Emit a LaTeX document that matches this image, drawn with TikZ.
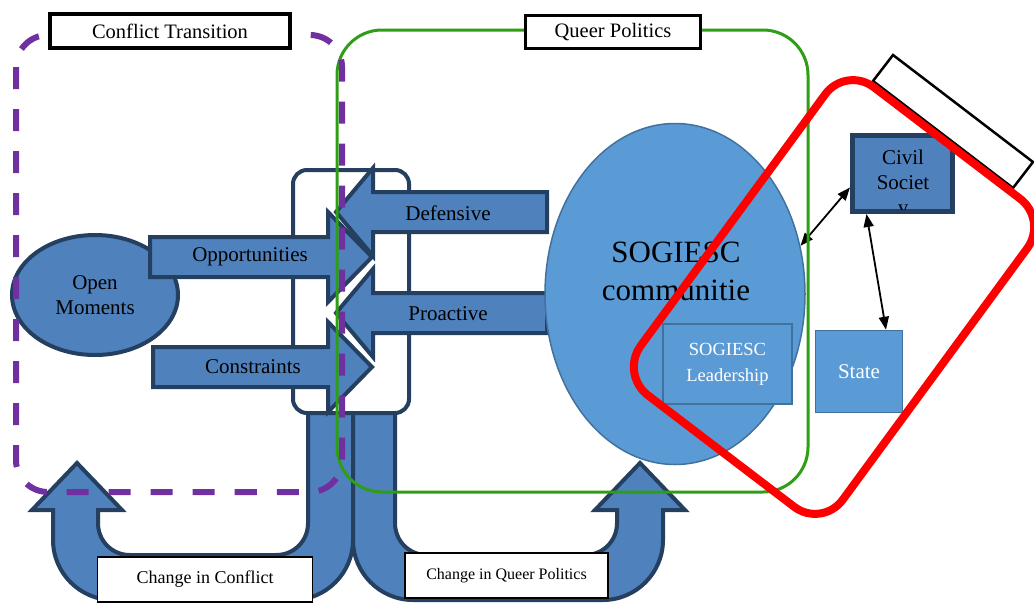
\documentclass[tikz,border=0pt]{standalone}
\usepackage{fontspec}
\setmainfont{Liberation Serif}
\usepackage{xcolor}
\usetikzlibrary{shapes.geometric,arrows.meta}

\begin{document}
\begin{tikzpicture}[x=1pt,y=-1pt,
  lbl/.style={font=\fontsize{21}{25}\selectfont},
  blockarrow/.style={draw=navyline,fill=arrowblue,line width=4},
  lightbox/.style={draw=lightline,fill=lightblue,text=white},
  titlebox/.style={draw=black,fill=white,line width=4,font=\fontsize{20.5}{24}\selectfont},
  changebox/.style={draw=black,fill=white,line width=1.5},
  linkarrow/.style={{Triangle[length=13pt,width=10pt]}-{Triangle[length=13pt,width=10pt]},line width=1.8}]
\definecolor{navyline}{HTML}{243F60}
\definecolor{arrowblue}{HTML}{4F81BD}
\definecolor{lightblue}{HTML}{5B9BD5}
\definecolor{lightline}{HTML}{41719C}
\definecolor{conflictpurple}{HTML}{7030A0}
\definecolor{queergreen}{HTML}{2E9E15}
\useasboundingbox (0,0) rectangle (1034,603);
% open moments
\node [ellipse,draw=navyline,fill=arrowblue,line width=4,minimum width=166,minimum height=120,
  lbl,align=center] (open) at (95,295) {Open\\Moments};
% the two U-turn arrows at the bottom
\draw[blockarrow] (77,463) -- (122,510) -- (98,510) -- (98,523) .. controls (98,541) and (112,555) .. (130,555)
  -- (276,555) .. controls (294,555) and (308,541) .. (308,523) -- (308,410) -- (353,410)
  -- (353,540) .. controls (353,573) and (326,600) .. (293,600) -- (113,600)
  .. controls (80,600) and (53,573) .. (53,540) -- (53,510) -- (32,510) -- cycle;
\draw[blockarrow] (640,463) -- (685,510) -- (663,510) -- (663,540) .. controls (663,573) and (636,600) .. (603,600)
  -- (413,600) .. controls (380,600) and (353,573) .. (353,540) -- (353,410) -- (395,410)
  -- (395,523) .. controls (395,541) and (409,555) .. (427,555) -- (585,555)
  .. controls (603,555) and (617,541) .. (617,523) -- (617,510) -- (595,510) -- cycle;
\node [draw=navyline,fill=white,line width=4,rounded corners=14,minimum width=116,minimum height=243]
  (meeting) at (351,291.5) {};
% block arrows
\foreach \xs/\yc/\txt/\nm in {150/257/Opportunities/opp,153/367/Constraints/con}
{ \draw[blockarrow] (\xs,\yc-20) -- (328,\yc-20) -- (328,\yc-45) -- (372,\yc) -- (328,\yc+45) -- (328,\yc+20) -- (\xs,\yc+20) -- cycle;
  \node [lbl] (\nm) at (\xs+100,\yc) {\txt};}
\foreach \yc/\txt/\nm in {212/Defensive/def,313/Proactive/pro}
{ \draw[blockarrow] (547,\yc-20) -- (373,\yc-20) -- (373,\yc-44) -- (336,\yc) -- (373,\yc+44) -- (373,\yc+20) -- (547,\yc+20) -- cycle;
  \node [lbl] (\nm) at (448,\yc+1) {\txt};}
% communities
\node [ellipse,draw=lightline,fill=lightblue,line width=1.5,minimum width=260,minimum height=341] (sogiesc) at (675,294) {};
\node [font=\fontsize{31}{38}\selectfont,align=center] (sogiesctext) at (676,271) {SOGIESC\\communitie};
\node [lightbox,line width=2.5,minimum width=129,minimum height=80,align=center,
  font=\fontsize{18.5}{26}\selectfont] (leader) at (727.5,364) {SOGIESC\\Leadership};
\node [lightbox,line width=1.5,minimum width=87,minimum height=82,lbl] (state) at (859,371.5) {State};
\node [draw=navyline,fill=arrowblue,line width=5,minimum width=100,minimum height=76] (civil) at (902.5,173.5) {};
\begin{scope}
  \clip (853,136) rectangle (952,209);
  \node [lbl,align=center] (civiltext) at (903,184) {Civil\\Societ\\y};
\end{scope}
\draw[linkarrow] (sogiesc.21) -- ([yshift=-14]civil.west);
\draw[linkarrow] ([xshift=-36]civil.south) -- ([xshift=27]state.north);
% frames
\draw[queergreen,line width=3,rounded corners=45] (337,30) rectangle (808,492);
\draw[conflictpurple,line width=6,dash pattern=on 22pt off 20pt,rounded corners=32] (16,35) rectangle (342,492);
\draw[black,line width=2.5,fill=white] (893,55) -- (1033,162) -- (1013,188) -- (873,81) -- cycle;
\draw[red,line width=8,rounded corners=35] (846,66) -- (620,374) -- (822,528) -- (1048,220) -- cycle;
% titles
\node [titlebox,minimum width=240,minimum height=34] (conflicttitle) at (170,31) {Conflict Transition};
\node [titlebox,line width=3.5,minimum width=175,minimum height=33] (queertitle) at (613,32) {Queer Politics};
\node [changebox,minimum width=215,minimum height=45,font=\fontsize{18}{22}\selectfont] (conflictchange) at (205,579.5) {Change in Conflict};
\node [changebox,minimum width=203,minimum height=45,font=\fontsize{16}{20}\selectfont] (queerchange) at (506.5,575.5) {Change in Queer Politics};
\end{tikzpicture}
\end{document}
